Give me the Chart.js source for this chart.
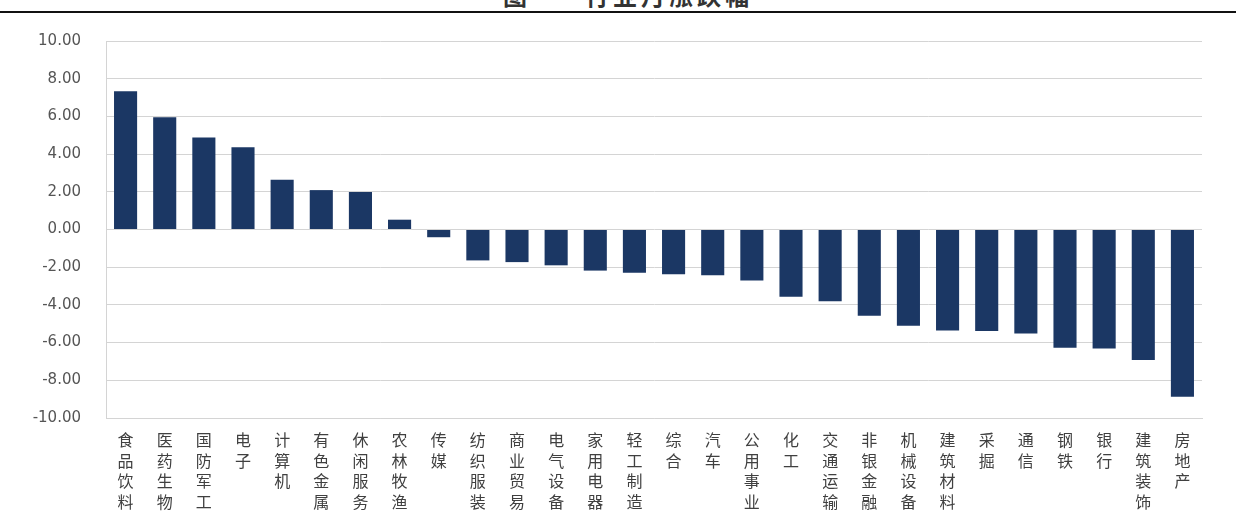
<!DOCTYPE html>
<html>
<head>
<meta charset="utf-8">
<script src="https://cdn.jsdelivr.net/npm/chart.js@4/dist/chart.umd.min.js"></script>
<style>
  html, body { margin: 0; padding: 0; background: #ffffff; }
  body { width: 1236px; height: 527px; position: relative; overflow: hidden; }
  .title {
    position: absolute; top: -17px; white-space: nowrap;
    font-family: "Noto Sans CJK SC", sans-serif; font-weight: bold;
    font-size: 24px; line-height: 24px; letter-spacing: 4px; color: #333333;
  }
  .rule { position: absolute; left: 0; top: 11px; width: 1236px; height: 2px; background: #111111; }
  #wrap { position: absolute; left: 0; top: 0; width: 1236px; height: 527px; }
</style>
</head>
<body>
<div class="title" style="left:503px;">图</div>
<div class="title" style="left:585px;">行业月涨跌幅</div>
<div class="rule"></div>
<div id="wrap"><canvas id="chart" width="1236" height="527"></canvas></div>
<script>
// 申万一级行业当月涨跌幅（%）
const industries = [
  ['食','品','饮','料'], ['医','药','生','物'], ['国','防','军','工'], ['电','子'],
  ['计','算','机'], ['有','色','金','属'], ['休','闲','服','务'], ['农','林','牧','渔'],
  ['传','媒'], ['纺','织','服','装'], ['商','业','贸','易'], ['电','气','设','备'],
  ['家','用','电','器'], ['轻','工','制','造'], ['综','合'], ['汽','车'],
  ['公','用','事','业'], ['化','工'], ['交','通','运','输'], ['非','银','金','融'],
  ['机','械','设','备'], ['建','筑','材','料'], ['采','掘'], ['通','信'],
  ['钢','铁'], ['银','行'], ['建','筑','装','饰'], ['房','地','产']
];
const monthlyChange = [
  7.34, 5.96, 4.88, 4.36, 2.64, 2.09, 1.99, 0.52,
  -0.41, -1.64, -1.73, -1.90, -2.18, -2.29, -2.38, -2.43,
  -2.71, -3.57, -3.80, -4.57, -5.10, -5.36, -5.39, -5.52,
  -6.27, -6.31, -6.92, -8.87
];
const yTicks = [10, 8, 6, 4, 2, 0, -2, -4, -6, -8, -10];

new Chart(document.getElementById('chart'), {
  type: 'bar',
  data: {
    labels: industries,
    datasets: [{
      data: monthlyChange,
      backgroundColor: '#1b3764',
      borderWidth: 0,
      barPercentage: 0.59,
      categoryPercentage: 1.0
    }]
  },
  options: {
    responsive: false,
    animation: false,
    events: [],
    layout: { padding: { top: 41, right: 34, bottom: 0, left: 0 } },
    plugins: { legend: { display: false }, tooltip: { enabled: false }, title: { display: false } },
    scales: {
      x: {
        grid: { display: false, drawTicks: false },
        border: { display: true, color: '#d4d4d4', width: 1 },
        ticks: {
          autoSkip: false, maxRotation: 0, minRotation: 0, padding: 12,
          color: '#404040',
          font: { family: '"Noto Sans CJK SC", sans-serif', size: 16, lineHeight: '20.5px' }
        },
        afterFit: (scale) => { scale.height = 109; }
      },
      y: {
        min: -10, max: 10,
        afterBuildTicks: (scale) => { scale.ticks = yTicks.map(v => ({ value: v })); },
        grid: { color: '#d4d4d4', lineWidth: 1, drawTicks: false },
        border: { display: true, color: '#d4d4d4', width: 1 },
        ticks: {
          padding: 25,
          color: '#555555',
          font: { family: '"DejaVu Sans", sans-serif', size: 15 },
          callback: (v) => Number(v).toFixed(2)
        },
        afterFit: (scale) => { scale.width = 106; }
      }
    }
  }
});
</script>
</body>
</html>
